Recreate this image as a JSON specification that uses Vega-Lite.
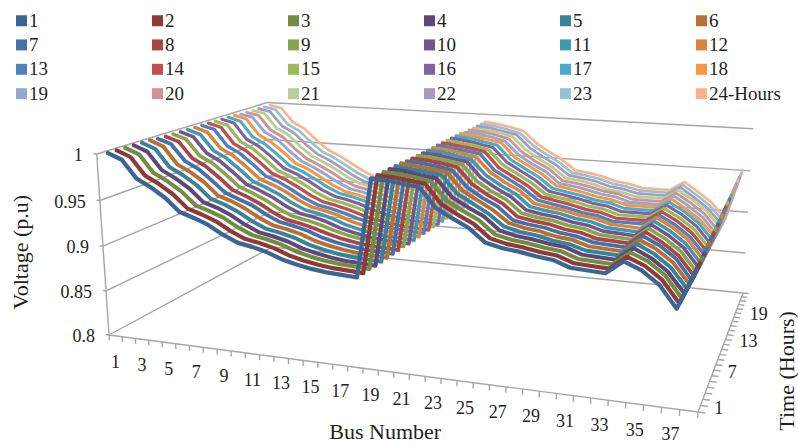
{"$schema":"https://vega.github.io/schema/vega-lite/v6.json","width":798,"height":446,"autosize":{"type":"fit","contains":"padding"},"padding":0,"background":"white","config":{"font":"Liberation Serif","view":{"stroke":null},"text":{"font":"Liberation Serif"},"legend":{"labelFont":"Liberation Serif"}},
"data":{"values":[
{"k":"r","b":0.5,"h":0.5,"v":0.8,"b2":0.5,"h2":24.5,"v2":0.8},{"k":"r","b":0.5,"h":24.5,"v":0.8,"b2":38.5,"h2":24.5,"v2":0.8},
{"k":"r","b":0.5,"h":0.5,"v":0.85,"b2":0.5,"h2":24.5,"v2":0.85},{"k":"r","b":0.5,"h":24.5,"v":0.85,"b2":38.5,"h2":24.5,"v2":0.85},
{"k":"r","b":0.5,"h":0.5,"v":0.9,"b2":0.5,"h2":24.5,"v2":0.9},{"k":"r","b":0.5,"h":24.5,"v":0.9,"b2":38.5,"h2":24.5,"v2":0.9},
{"k":"r","b":0.5,"h":0.5,"v":0.95,"b2":0.5,"h2":24.5,"v2":0.95},{"k":"r","b":0.5,"h":24.5,"v":0.95,"b2":38.5,"h2":24.5,"v2":0.95},
{"k":"r","b":0.5,"h":0.5,"v":1,"b2":0.5,"h2":24.5,"v2":1},{"k":"r","b":0.5,"h":24.5,"v":1,"b2":38.5,"h2":24.5,"v2":1},
{"k":"r","b":0.5,"h":0.5,"v":0.8,"b2":38.5,"h2":0.5,"v2":0.8},{"k":"r","b":38.5,"h":0.5,"v":0.8,"b2":38.5,"h2":24.5,"v2":0.8},{"k":"r","b":0.5,"h":0.5,"v":0.8,"b2":0.5,"h2":0.5,"v2":1},
{"k":"r","b":0.5,"h":0.5,"v":0.8,"b2":0.25,"h2":0.5,"v2":0.8},{"k":"r","b":0.5,"h":0.5,"v":0.85,"b2":0.25,"h2":0.5,"v2":0.85},{"k":"r","b":0.5,"h":0.5,"v":0.9,"b2":0.25,"h2":0.5,"v2":0.9},{"k":"r","b":0.5,"h":0.5,"v":0.95,"b2":0.25,"h2":0.5,"v2":0.95},{"k":"r","b":0.5,"h":0.5,"v":1,"b2":0.25,"h2":0.5,"v2":1},
{"k":"r","b":0.5,"h":0.5,"v":0.8,"b2":0.5,"h2":0.5,"v2":0.794},{"k":"r","b":1.5,"h":0.5,"v":0.8,"b2":1.5,"h2":0.5,"v2":0.794},{"k":"r","b":2.5,"h":0.5,"v":0.8,"b2":2.5,"h2":0.5,"v2":0.794},{"k":"r","b":3.5,"h":0.5,"v":0.8,"b2":3.5,"h2":0.5,"v2":0.794},{"k":"r","b":4.5,"h":0.5,"v":0.8,"b2":4.5,"h2":0.5,"v2":0.794},{"k":"r","b":5.5,"h":0.5,"v":0.8,"b2":5.5,"h2":0.5,"v2":0.794},{"k":"r","b":6.5,"h":0.5,"v":0.8,"b2":6.5,"h2":0.5,"v2":0.794},{"k":"r","b":7.5,"h":0.5,"v":0.8,"b2":7.5,"h2":0.5,"v2":0.794},{"k":"r","b":8.5,"h":0.5,"v":0.8,"b2":8.5,"h2":0.5,"v2":0.794},{"k":"r","b":9.5,"h":0.5,"v":0.8,"b2":9.5,"h2":0.5,"v2":0.794},{"k":"r","b":10.5,"h":0.5,"v":0.8,"b2":10.5,"h2":0.5,"v2":0.794},{"k":"r","b":11.5,"h":0.5,"v":0.8,"b2":11.5,"h2":0.5,"v2":0.794},{"k":"r","b":12.5,"h":0.5,"v":0.8,"b2":12.5,"h2":0.5,"v2":0.794},{"k":"r","b":13.5,"h":0.5,"v":0.8,"b2":13.5,"h2":0.5,"v2":0.794},{"k":"r","b":14.5,"h":0.5,"v":0.8,"b2":14.5,"h2":0.5,"v2":0.794},{"k":"r","b":15.5,"h":0.5,"v":0.8,"b2":15.5,"h2":0.5,"v2":0.794},{"k":"r","b":16.5,"h":0.5,"v":0.8,"b2":16.5,"h2":0.5,"v2":0.794},{"k":"r","b":17.5,"h":0.5,"v":0.8,"b2":17.5,"h2":0.5,"v2":0.794},{"k":"r","b":18.5,"h":0.5,"v":0.8,"b2":18.5,"h2":0.5,"v2":0.794},{"k":"r","b":19.5,"h":0.5,"v":0.8,"b2":19.5,"h2":0.5,"v2":0.794},{"k":"r","b":20.5,"h":0.5,"v":0.8,"b2":20.5,"h2":0.5,"v2":0.794},{"k":"r","b":21.5,"h":0.5,"v":0.8,"b2":21.5,"h2":0.5,"v2":0.794},{"k":"r","b":22.5,"h":0.5,"v":0.8,"b2":22.5,"h2":0.5,"v2":0.794},{"k":"r","b":23.5,"h":0.5,"v":0.8,"b2":23.5,"h2":0.5,"v2":0.794},{"k":"r","b":24.5,"h":0.5,"v":0.8,"b2":24.5,"h2":0.5,"v2":0.794},{"k":"r","b":25.5,"h":0.5,"v":0.8,"b2":25.5,"h2":0.5,"v2":0.794},{"k":"r","b":26.5,"h":0.5,"v":0.8,"b2":26.5,"h2":0.5,"v2":0.794},{"k":"r","b":27.5,"h":0.5,"v":0.8,"b2":27.5,"h2":0.5,"v2":0.794},{"k":"r","b":28.5,"h":0.5,"v":0.8,"b2":28.5,"h2":0.5,"v2":0.794},{"k":"r","b":29.5,"h":0.5,"v":0.8,"b2":29.5,"h2":0.5,"v2":0.794},{"k":"r","b":30.5,"h":0.5,"v":0.8,"b2":30.5,"h2":0.5,"v2":0.794},{"k":"r","b":31.5,"h":0.5,"v":0.8,"b2":31.5,"h2":0.5,"v2":0.794},{"k":"r","b":32.5,"h":0.5,"v":0.8,"b2":32.5,"h2":0.5,"v2":0.794},{"k":"r","b":33.5,"h":0.5,"v":0.8,"b2":33.5,"h2":0.5,"v2":0.794},{"k":"r","b":34.5,"h":0.5,"v":0.8,"b2":34.5,"h2":0.5,"v2":0.794},{"k":"r","b":35.5,"h":0.5,"v":0.8,"b2":35.5,"h2":0.5,"v2":0.794},{"k":"r","b":36.5,"h":0.5,"v":0.8,"b2":36.5,"h2":0.5,"v2":0.794},{"k":"r","b":37.5,"h":0.5,"v":0.8,"b2":37.5,"h2":0.5,"v2":0.794},{"k":"r","b":38.5,"h":0.5,"v":0.8,"b2":38.5,"h2":0.5,"v2":0.794},
{"k":"r","b":38.5,"h":0.5,"v":0.8,"b2":38.9,"h2":0.5,"v2":0.8},{"k":"r","b":38.5,"h":1.5,"v":0.8,"b2":38.9,"h2":1.5,"v2":0.8},{"k":"r","b":38.5,"h":2.5,"v":0.8,"b2":38.9,"h2":2.5,"v2":0.8},{"k":"r","b":38.5,"h":3.5,"v":0.8,"b2":38.9,"h2":3.5,"v2":0.8},{"k":"r","b":38.5,"h":4.5,"v":0.8,"b2":38.9,"h2":4.5,"v2":0.8},{"k":"r","b":38.5,"h":5.5,"v":0.8,"b2":38.9,"h2":5.5,"v2":0.8},{"k":"r","b":38.5,"h":6.5,"v":0.8,"b2":38.9,"h2":6.5,"v2":0.8},{"k":"r","b":38.5,"h":7.5,"v":0.8,"b2":38.9,"h2":7.5,"v2":0.8},{"k":"r","b":38.5,"h":8.5,"v":0.8,"b2":38.9,"h2":8.5,"v2":0.8},{"k":"r","b":38.5,"h":9.5,"v":0.8,"b2":38.9,"h2":9.5,"v2":0.8},{"k":"r","b":38.5,"h":10.5,"v":0.8,"b2":38.9,"h2":10.5,"v2":0.8},{"k":"r","b":38.5,"h":11.5,"v":0.8,"b2":38.9,"h2":11.5,"v2":0.8},{"k":"r","b":38.5,"h":12.5,"v":0.8,"b2":38.9,"h2":12.5,"v2":0.8},{"k":"r","b":38.5,"h":13.5,"v":0.8,"b2":38.9,"h2":13.5,"v2":0.8},{"k":"r","b":38.5,"h":14.5,"v":0.8,"b2":38.9,"h2":14.5,"v2":0.8},{"k":"r","b":38.5,"h":15.5,"v":0.8,"b2":38.9,"h2":15.5,"v2":0.8},{"k":"r","b":38.5,"h":16.5,"v":0.8,"b2":38.9,"h2":16.5,"v2":0.8},{"k":"r","b":38.5,"h":17.5,"v":0.8,"b2":38.9,"h2":17.5,"v2":0.8},{"k":"r","b":38.5,"h":18.5,"v":0.8,"b2":38.9,"h2":18.5,"v2":0.8},{"k":"r","b":38.5,"h":19.5,"v":0.8,"b2":38.9,"h2":19.5,"v2":0.8},{"k":"r","b":38.5,"h":20.5,"v":0.8,"b2":38.9,"h2":20.5,"v2":0.8},{"k":"r","b":38.5,"h":21.5,"v":0.8,"b2":38.9,"h2":21.5,"v2":0.8},{"k":"r","b":38.5,"h":22.5,"v":0.8,"b2":38.9,"h2":22.5,"v2":0.8},{"k":"r","b":38.5,"h":23.5,"v":0.8,"b2":38.9,"h2":23.5,"v2":0.8},{"k":"r","b":38.5,"h":24.5,"v":0.8,"b2":38.9,"h2":24.5,"v2":0.8},
{"k":"lv","b":0.5,"h":0.5,"v":1,"label":"1"},{"k":"lv","b":0.5,"h":0.5,"v":0.95,"label":"0.95"},{"k":"lv","b":0.5,"h":0.5,"v":0.9,"label":"0.9"},{"k":"lv","b":0.5,"h":0.5,"v":0.85,"label":"0.85"},{"k":"lv","b":0.5,"h":0.5,"v":0.8,"label":"0.8"},
{"k":"lb","b":1,"h":0.5,"v":0.8,"label":"1"},{"k":"lb","b":3,"h":0.5,"v":0.8,"label":"3"},{"k":"lb","b":5,"h":0.5,"v":0.8,"label":"5"},{"k":"lb","b":7,"h":0.5,"v":0.8,"label":"7"},{"k":"lb","b":9,"h":0.5,"v":0.8,"label":"9"},{"k":"lb","b":11,"h":0.5,"v":0.8,"label":"11"},{"k":"lb","b":13,"h":0.5,"v":0.8,"label":"13"},{"k":"lb","b":15,"h":0.5,"v":0.8,"label":"15"},{"k":"lb","b":17,"h":0.5,"v":0.8,"label":"17"},{"k":"lb","b":19,"h":0.5,"v":0.8,"label":"19"},{"k":"lb","b":21,"h":0.5,"v":0.8,"label":"21"},{"k":"lb","b":23,"h":0.5,"v":0.8,"label":"23"},{"k":"lb","b":25,"h":0.5,"v":0.8,"label":"25"},{"k":"lb","b":27,"h":0.5,"v":0.8,"label":"27"},{"k":"lb","b":29,"h":0.5,"v":0.8,"label":"29"},{"k":"lb","b":31,"h":0.5,"v":0.8,"label":"31"},{"k":"lb","b":33,"h":0.5,"v":0.8,"label":"33"},{"k":"lb","b":35,"h":0.5,"v":0.8,"label":"35"},{"k":"lb","b":37,"h":0.5,"v":0.8,"label":"37"},
{"k":"lh","b":38.5,"h":1,"v":0.8,"label":"1"},{"k":"lh","b":38.5,"h":7,"v":0.8,"label":"7"},{"k":"lh","b":38.5,"h":13,"v":0.8,"label":"13"},{"k":"lh","b":38.5,"h":19,"v":0.8,"label":"19"},
{"k":"tx","b":19.5,"h":0.5,"v":0.8,"label":"Bus Number"},{"k":"ty","b":0.5,"h":0.5,"v":0.9,"label":"Voltage (p.u)"},{"k":"tt","b":38.5,"h":10,"v":0.8,"label":"Time (Hours)"},
{"b":1,"h":24,"v":0.998},{"b":2,"h":24,"v":0.995},{"b":3,"h":24,"v":0.977},{"b":4,"h":24,"v":0.969},{"b":5,"h":24,"v":0.955},{"b":6,"h":24,"v":0.943},{"b":7,"h":24,"v":0.936},{"b":8,"h":24,"v":0.927},{"b":9,"h":24,"v":0.918},{"b":10,"h":24,"v":0.911},{"b":11,"h":24,"v":0.908},{"b":12,"h":24,"v":0.904},{"b":13,"h":24,"v":0.899},{"b":14,"h":24,"v":0.895},{"b":15,"h":24,"v":0.892},{"b":16,"h":24,"v":0.89},{"b":17,"h":24,"v":0.889},{"b":18,"h":24,"v":0.888},{"b":19,"h":24,"v":0.992},{"b":20,"h":24,"v":0.99},{"b":21,"h":24,"v":0.987},{"b":22,"h":24,"v":0.983},{"b":23,"h":24,"v":0.969},{"b":24,"h":24,"v":0.959},{"b":25,"h":24,"v":0.95},{"b":26,"h":24,"v":0.938},{"b":27,"h":24,"v":0.936},{"b":28,"h":24,"v":0.933},{"b":29,"h":24,"v":0.928},{"b":30,"h":24,"v":0.926},{"b":31,"h":24,"v":0.922},{"b":32,"h":24,"v":0.922},{"b":33,"h":24,"v":0.922},{"b":34,"h":24,"v":0.933},{"b":35,"h":24,"v":0.922},{"b":36,"h":24,"v":0.91},{"b":37,"h":24,"v":0.892},{"b":38,"h":24,"v":0.952},
{"b":1,"h":23,"v":0.998},{"b":2,"h":23,"v":0.995},{"b":3,"h":23,"v":0.977},{"b":4,"h":23,"v":0.969},{"b":5,"h":23,"v":0.955},{"b":6,"h":23,"v":0.943},{"b":7,"h":23,"v":0.936},{"b":8,"h":23,"v":0.927},{"b":9,"h":23,"v":0.918},{"b":10,"h":23,"v":0.911},{"b":11,"h":23,"v":0.908},{"b":12,"h":23,"v":0.904},{"b":13,"h":23,"v":0.899},{"b":14,"h":23,"v":0.895},{"b":15,"h":23,"v":0.892},{"b":16,"h":23,"v":0.89},{"b":17,"h":23,"v":0.889},{"b":18,"h":23,"v":0.888},{"b":19,"h":23,"v":0.992},{"b":20,"h":23,"v":0.99},{"b":21,"h":23,"v":0.987},{"b":22,"h":23,"v":0.983},{"b":23,"h":23,"v":0.969},{"b":24,"h":23,"v":0.959},{"b":25,"h":23,"v":0.95},{"b":26,"h":23,"v":0.938},{"b":27,"h":23,"v":0.936},{"b":28,"h":23,"v":0.933},{"b":29,"h":23,"v":0.928},{"b":30,"h":23,"v":0.926},{"b":31,"h":23,"v":0.922},{"b":32,"h":23,"v":0.922},{"b":33,"h":23,"v":0.922},{"b":34,"h":23,"v":0.933},{"b":35,"h":23,"v":0.922},{"b":36,"h":23,"v":0.91},{"b":37,"h":23,"v":0.892},{"b":38,"h":23,"v":0.951},
{"b":1,"h":22,"v":0.998},{"b":2,"h":22,"v":0.995},{"b":3,"h":22,"v":0.977},{"b":4,"h":22,"v":0.969},{"b":5,"h":22,"v":0.955},{"b":6,"h":22,"v":0.943},{"b":7,"h":22,"v":0.936},{"b":8,"h":22,"v":0.927},{"b":9,"h":22,"v":0.918},{"b":10,"h":22,"v":0.911},{"b":11,"h":22,"v":0.908},{"b":12,"h":22,"v":0.904},{"b":13,"h":22,"v":0.899},{"b":14,"h":22,"v":0.895},{"b":15,"h":22,"v":0.892},{"b":16,"h":22,"v":0.89},{"b":17,"h":22,"v":0.889},{"b":18,"h":22,"v":0.888},{"b":19,"h":22,"v":0.992},{"b":20,"h":22,"v":0.99},{"b":21,"h":22,"v":0.987},{"b":22,"h":22,"v":0.984},{"b":23,"h":22,"v":0.969},{"b":24,"h":22,"v":0.959},{"b":25,"h":22,"v":0.95},{"b":26,"h":22,"v":0.938},{"b":27,"h":22,"v":0.936},{"b":28,"h":22,"v":0.933},{"b":29,"h":22,"v":0.928},{"b":30,"h":22,"v":0.926},{"b":31,"h":22,"v":0.922},{"b":32,"h":22,"v":0.922},{"b":33,"h":22,"v":0.922},{"b":34,"h":22,"v":0.933},{"b":35,"h":22,"v":0.922},{"b":36,"h":22,"v":0.91},{"b":37,"h":22,"v":0.892},{"b":38,"h":22,"v":0.95},
{"b":1,"h":21,"v":0.998},{"b":2,"h":21,"v":0.995},{"b":3,"h":21,"v":0.977},{"b":4,"h":21,"v":0.969},{"b":5,"h":21,"v":0.955},{"b":6,"h":21,"v":0.943},{"b":7,"h":21,"v":0.936},{"b":8,"h":21,"v":0.928},{"b":9,"h":21,"v":0.919},{"b":10,"h":21,"v":0.912},{"b":11,"h":21,"v":0.909},{"b":12,"h":21,"v":0.905},{"b":13,"h":21,"v":0.9},{"b":14,"h":21,"v":0.896},{"b":15,"h":21,"v":0.893},{"b":16,"h":21,"v":0.891},{"b":17,"h":21,"v":0.89},{"b":18,"h":21,"v":0.889},{"b":19,"h":21,"v":0.992},{"b":20,"h":21,"v":0.99},{"b":21,"h":21,"v":0.988},{"b":22,"h":21,"v":0.984},{"b":23,"h":21,"v":0.969},{"b":24,"h":21,"v":0.959},{"b":25,"h":21,"v":0.95},{"b":26,"h":21,"v":0.938},{"b":27,"h":21,"v":0.936},{"b":28,"h":21,"v":0.933},{"b":29,"h":21,"v":0.928},{"b":30,"h":21,"v":0.926},{"b":31,"h":21,"v":0.922},{"b":32,"h":21,"v":0.922},{"b":33,"h":21,"v":0.922},{"b":34,"h":21,"v":0.933},{"b":35,"h":21,"v":0.923},{"b":36,"h":21,"v":0.911},{"b":37,"h":21,"v":0.892},{"b":38,"h":21,"v":0.95},
{"b":1,"h":20,"v":0.998},{"b":2,"h":20,"v":0.995},{"b":3,"h":20,"v":0.977},{"b":4,"h":20,"v":0.969},{"b":5,"h":20,"v":0.955},{"b":6,"h":20,"v":0.943},{"b":7,"h":20,"v":0.936},{"b":8,"h":20,"v":0.928},{"b":9,"h":20,"v":0.919},{"b":10,"h":20,"v":0.912},{"b":11,"h":20,"v":0.909},{"b":12,"h":20,"v":0.905},{"b":13,"h":20,"v":0.9},{"b":14,"h":20,"v":0.896},{"b":15,"h":20,"v":0.893},{"b":16,"h":20,"v":0.891},{"b":17,"h":20,"v":0.89},{"b":18,"h":20,"v":0.889},{"b":19,"h":20,"v":0.992},{"b":20,"h":20,"v":0.991},{"b":21,"h":20,"v":0.988},{"b":22,"h":20,"v":0.984},{"b":23,"h":20,"v":0.969},{"b":24,"h":20,"v":0.959},{"b":25,"h":20,"v":0.951},{"b":26,"h":20,"v":0.938},{"b":27,"h":20,"v":0.936},{"b":28,"h":20,"v":0.933},{"b":29,"h":20,"v":0.929},{"b":30,"h":20,"v":0.927},{"b":31,"h":20,"v":0.922},{"b":32,"h":20,"v":0.922},{"b":33,"h":20,"v":0.922},{"b":34,"h":20,"v":0.933},{"b":35,"h":20,"v":0.923},{"b":36,"h":20,"v":0.911},{"b":37,"h":20,"v":0.892},{"b":38,"h":20,"v":0.949},
{"b":1,"h":19,"v":0.998},{"b":2,"h":19,"v":0.995},{"b":3,"h":19,"v":0.977},{"b":4,"h":19,"v":0.969},{"b":5,"h":19,"v":0.955},{"b":6,"h":19,"v":0.943},{"b":7,"h":19,"v":0.936},{"b":8,"h":19,"v":0.928},{"b":9,"h":19,"v":0.919},{"b":10,"h":19,"v":0.912},{"b":11,"h":19,"v":0.909},{"b":12,"h":19,"v":0.905},{"b":13,"h":19,"v":0.9},{"b":14,"h":19,"v":0.896},{"b":15,"h":19,"v":0.893},{"b":16,"h":19,"v":0.891},{"b":17,"h":19,"v":0.89},{"b":18,"h":19,"v":0.889},{"b":19,"h":19,"v":0.992},{"b":20,"h":19,"v":0.991},{"b":21,"h":19,"v":0.988},{"b":22,"h":19,"v":0.984},{"b":23,"h":19,"v":0.969},{"b":24,"h":19,"v":0.959},{"b":25,"h":19,"v":0.951},{"b":26,"h":19,"v":0.938},{"b":27,"h":19,"v":0.936},{"b":28,"h":19,"v":0.933},{"b":29,"h":19,"v":0.929},{"b":30,"h":19,"v":0.927},{"b":31,"h":19,"v":0.922},{"b":32,"h":19,"v":0.922},{"b":33,"h":19,"v":0.922},{"b":34,"h":19,"v":0.933},{"b":35,"h":19,"v":0.923},{"b":36,"h":19,"v":0.911},{"b":37,"h":19,"v":0.892},{"b":38,"h":19,"v":0.948},
{"b":1,"h":18,"v":0.999},{"b":2,"h":18,"v":0.995},{"b":3,"h":18,"v":0.976},{"b":4,"h":18,"v":0.968},{"b":5,"h":18,"v":0.956},{"b":6,"h":18,"v":0.943},{"b":7,"h":18,"v":0.937},{"b":8,"h":18,"v":0.928},{"b":9,"h":18,"v":0.919},{"b":10,"h":18,"v":0.912},{"b":11,"h":18,"v":0.909},{"b":12,"h":18,"v":0.905},{"b":13,"h":18,"v":0.9},{"b":14,"h":18,"v":0.896},{"b":15,"h":18,"v":0.893},{"b":16,"h":18,"v":0.891},{"b":17,"h":18,"v":0.89},{"b":18,"h":18,"v":0.889},{"b":19,"h":18,"v":0.993},{"b":20,"h":18,"v":0.991},{"b":21,"h":18,"v":0.988},{"b":22,"h":18,"v":0.985},{"b":23,"h":18,"v":0.969},{"b":24,"h":18,"v":0.96},{"b":25,"h":18,"v":0.951},{"b":26,"h":18,"v":0.939},{"b":27,"h":18,"v":0.936},{"b":28,"h":18,"v":0.933},{"b":29,"h":18,"v":0.929},{"b":30,"h":18,"v":0.927},{"b":31,"h":18,"v":0.922},{"b":32,"h":18,"v":0.922},{"b":33,"h":18,"v":0.922},{"b":34,"h":18,"v":0.933},{"b":35,"h":18,"v":0.923},{"b":36,"h":18,"v":0.911},{"b":37,"h":18,"v":0.893},{"b":38,"h":18,"v":0.947},
{"b":1,"h":17,"v":0.999},{"b":2,"h":17,"v":0.995},{"b":3,"h":17,"v":0.976},{"b":4,"h":17,"v":0.968},{"b":5,"h":17,"v":0.956},{"b":6,"h":17,"v":0.943},{"b":7,"h":17,"v":0.937},{"b":8,"h":17,"v":0.929},{"b":9,"h":17,"v":0.92},{"b":10,"h":17,"v":0.913},{"b":11,"h":17,"v":0.91},{"b":12,"h":17,"v":0.906},{"b":13,"h":17,"v":0.9},{"b":14,"h":17,"v":0.896},{"b":15,"h":17,"v":0.893},{"b":16,"h":17,"v":0.891},{"b":17,"h":17,"v":0.89},{"b":18,"h":17,"v":0.889},{"b":19,"h":17,"v":0.993},{"b":20,"h":17,"v":0.991},{"b":21,"h":17,"v":0.988},{"b":22,"h":17,"v":0.985},{"b":23,"h":17,"v":0.969},{"b":24,"h":17,"v":0.96},{"b":25,"h":17,"v":0.951},{"b":26,"h":17,"v":0.939},{"b":27,"h":17,"v":0.936},{"b":28,"h":17,"v":0.933},{"b":29,"h":17,"v":0.929},{"b":30,"h":17,"v":0.927},{"b":31,"h":17,"v":0.922},{"b":32,"h":17,"v":0.922},{"b":33,"h":17,"v":0.922},{"b":34,"h":17,"v":0.933},{"b":35,"h":17,"v":0.924},{"b":36,"h":17,"v":0.912},{"b":37,"h":17,"v":0.893},{"b":38,"h":17,"v":0.946},
{"b":1,"h":16,"v":0.999},{"b":2,"h":16,"v":0.995},{"b":3,"h":16,"v":0.976},{"b":4,"h":16,"v":0.968},{"b":5,"h":16,"v":0.956},{"b":6,"h":16,"v":0.943},{"b":7,"h":16,"v":0.937},{"b":8,"h":16,"v":0.929},{"b":9,"h":16,"v":0.92},{"b":10,"h":16,"v":0.913},{"b":11,"h":16,"v":0.91},{"b":12,"h":16,"v":0.906},{"b":13,"h":16,"v":0.9},{"b":14,"h":16,"v":0.896},{"b":15,"h":16,"v":0.893},{"b":16,"h":16,"v":0.891},{"b":17,"h":16,"v":0.89},{"b":18,"h":16,"v":0.889},{"b":19,"h":16,"v":0.993},{"b":20,"h":16,"v":0.991},{"b":21,"h":16,"v":0.988},{"b":22,"h":16,"v":0.985},{"b":23,"h":16,"v":0.969},{"b":24,"h":16,"v":0.96},{"b":25,"h":16,"v":0.951},{"b":26,"h":16,"v":0.939},{"b":27,"h":16,"v":0.936},{"b":28,"h":16,"v":0.933},{"b":29,"h":16,"v":0.929},{"b":30,"h":16,"v":0.927},{"b":31,"h":16,"v":0.922},{"b":32,"h":16,"v":0.922},{"b":33,"h":16,"v":0.922},{"b":34,"h":16,"v":0.933},{"b":35,"h":16,"v":0.924},{"b":36,"h":16,"v":0.912},{"b":37,"h":16,"v":0.893},{"b":38,"h":16,"v":0.945},
{"b":1,"h":15,"v":0.999},{"b":2,"h":15,"v":0.995},{"b":3,"h":15,"v":0.976},{"b":4,"h":15,"v":0.968},{"b":5,"h":15,"v":0.956},{"b":6,"h":15,"v":0.943},{"b":7,"h":15,"v":0.937},{"b":8,"h":15,"v":0.929},{"b":9,"h":15,"v":0.92},{"b":10,"h":15,"v":0.913},{"b":11,"h":15,"v":0.91},{"b":12,"h":15,"v":0.906},{"b":13,"h":15,"v":0.901},{"b":14,"h":15,"v":0.897},{"b":15,"h":15,"v":0.894},{"b":16,"h":15,"v":0.892},{"b":17,"h":15,"v":0.891},{"b":18,"h":15,"v":0.89},{"b":19,"h":15,"v":0.993},{"b":20,"h":15,"v":0.991},{"b":21,"h":15,"v":0.989},{"b":22,"h":15,"v":0.985},{"b":23,"h":15,"v":0.969},{"b":24,"h":15,"v":0.96},{"b":25,"h":15,"v":0.951},{"b":26,"h":15,"v":0.939},{"b":27,"h":15,"v":0.936},{"b":28,"h":15,"v":0.933},{"b":29,"h":15,"v":0.929},{"b":30,"h":15,"v":0.927},{"b":31,"h":15,"v":0.922},{"b":32,"h":15,"v":0.922},{"b":33,"h":15,"v":0.922},{"b":34,"h":15,"v":0.933},{"b":35,"h":15,"v":0.924},{"b":36,"h":15,"v":0.912},{"b":37,"h":15,"v":0.893},{"b":38,"h":15,"v":0.945},
{"b":1,"h":14,"v":0.999},{"b":2,"h":14,"v":0.995},{"b":3,"h":14,"v":0.976},{"b":4,"h":14,"v":0.968},{"b":5,"h":14,"v":0.956},{"b":6,"h":14,"v":0.943},{"b":7,"h":14,"v":0.937},{"b":8,"h":14,"v":0.929},{"b":9,"h":14,"v":0.92},{"b":10,"h":14,"v":0.913},{"b":11,"h":14,"v":0.91},{"b":12,"h":14,"v":0.906},{"b":13,"h":14,"v":0.901},{"b":14,"h":14,"v":0.897},{"b":15,"h":14,"v":0.894},{"b":16,"h":14,"v":0.892},{"b":17,"h":14,"v":0.891},{"b":18,"h":14,"v":0.89},{"b":19,"h":14,"v":0.993},{"b":20,"h":14,"v":0.991},{"b":21,"h":14,"v":0.989},{"b":22,"h":14,"v":0.986},{"b":23,"h":14,"v":0.969},{"b":24,"h":14,"v":0.96},{"b":25,"h":14,"v":0.951},{"b":26,"h":14,"v":0.939},{"b":27,"h":14,"v":0.936},{"b":28,"h":14,"v":0.933},{"b":29,"h":14,"v":0.929},{"b":30,"h":14,"v":0.927},{"b":31,"h":14,"v":0.922},{"b":32,"h":14,"v":0.922},{"b":33,"h":14,"v":0.922},{"b":34,"h":14,"v":0.933},{"b":35,"h":14,"v":0.924},{"b":36,"h":14,"v":0.912},{"b":37,"h":14,"v":0.893},{"b":38,"h":14,"v":0.944},
{"b":1,"h":13,"v":0.999},{"b":2,"h":13,"v":0.995},{"b":3,"h":13,"v":0.976},{"b":4,"h":13,"v":0.968},{"b":5,"h":13,"v":0.956},{"b":6,"h":13,"v":0.943},{"b":7,"h":13,"v":0.937},{"b":8,"h":13,"v":0.929},{"b":9,"h":13,"v":0.92},{"b":10,"h":13,"v":0.913},{"b":11,"h":13,"v":0.91},{"b":12,"h":13,"v":0.906},{"b":13,"h":13,"v":0.901},{"b":14,"h":13,"v":0.897},{"b":15,"h":13,"v":0.894},{"b":16,"h":13,"v":0.892},{"b":17,"h":13,"v":0.891},{"b":18,"h":13,"v":0.89},{"b":19,"h":13,"v":0.993},{"b":20,"h":13,"v":0.991},{"b":21,"h":13,"v":0.989},{"b":22,"h":13,"v":0.986},{"b":23,"h":13,"v":0.969},{"b":24,"h":13,"v":0.96},{"b":25,"h":13,"v":0.951},{"b":26,"h":13,"v":0.939},{"b":27,"h":13,"v":0.936},{"b":28,"h":13,"v":0.933},{"b":29,"h":13,"v":0.929},{"b":30,"h":13,"v":0.927},{"b":31,"h":13,"v":0.922},{"b":32,"h":13,"v":0.922},{"b":33,"h":13,"v":0.922},{"b":34,"h":13,"v":0.933},{"b":35,"h":13,"v":0.924},{"b":36,"h":13,"v":0.912},{"b":37,"h":13,"v":0.893},{"b":38,"h":13,"v":0.943},
{"b":1,"h":12,"v":0.999},{"b":2,"h":12,"v":0.994},{"b":3,"h":12,"v":0.976},{"b":4,"h":12,"v":0.968},{"b":5,"h":12,"v":0.956},{"b":6,"h":12,"v":0.943},{"b":7,"h":12,"v":0.937},{"b":8,"h":12,"v":0.93},{"b":9,"h":12,"v":0.921},{"b":10,"h":12,"v":0.914},{"b":11,"h":12,"v":0.911},{"b":12,"h":12,"v":0.907},{"b":13,"h":12,"v":0.901},{"b":14,"h":12,"v":0.897},{"b":15,"h":12,"v":0.894},{"b":16,"h":12,"v":0.892},{"b":17,"h":12,"v":0.891},{"b":18,"h":12,"v":0.89},{"b":19,"h":12,"v":0.993},{"b":20,"h":12,"v":0.992},{"b":21,"h":12,"v":0.989},{"b":22,"h":12,"v":0.986},{"b":23,"h":12,"v":0.97},{"b":24,"h":12,"v":0.96},{"b":25,"h":12,"v":0.952},{"b":26,"h":12,"v":0.939},{"b":27,"h":12,"v":0.936},{"b":28,"h":12,"v":0.934},{"b":29,"h":12,"v":0.93},{"b":30,"h":12,"v":0.928},{"b":31,"h":12,"v":0.923},{"b":32,"h":12,"v":0.922},{"b":33,"h":12,"v":0.921},{"b":34,"h":12,"v":0.934},{"b":35,"h":12,"v":0.925},{"b":36,"h":12,"v":0.913},{"b":37,"h":12,"v":0.893},{"b":38,"h":12,"v":0.942},
{"b":1,"h":11,"v":0.999},{"b":2,"h":11,"v":0.994},{"b":3,"h":11,"v":0.976},{"b":4,"h":11,"v":0.968},{"b":5,"h":11,"v":0.956},{"b":6,"h":11,"v":0.943},{"b":7,"h":11,"v":0.937},{"b":8,"h":11,"v":0.93},{"b":9,"h":11,"v":0.921},{"b":10,"h":11,"v":0.914},{"b":11,"h":11,"v":0.911},{"b":12,"h":11,"v":0.907},{"b":13,"h":11,"v":0.901},{"b":14,"h":11,"v":0.897},{"b":15,"h":11,"v":0.894},{"b":16,"h":11,"v":0.892},{"b":17,"h":11,"v":0.891},{"b":18,"h":11,"v":0.89},{"b":19,"h":11,"v":0.993},{"b":20,"h":11,"v":0.992},{"b":21,"h":11,"v":0.989},{"b":22,"h":11,"v":0.986},{"b":23,"h":11,"v":0.97},{"b":24,"h":11,"v":0.96},{"b":25,"h":11,"v":0.952},{"b":26,"h":11,"v":0.939},{"b":27,"h":11,"v":0.936},{"b":28,"h":11,"v":0.934},{"b":29,"h":11,"v":0.93},{"b":30,"h":11,"v":0.928},{"b":31,"h":11,"v":0.923},{"b":32,"h":11,"v":0.922},{"b":33,"h":11,"v":0.921},{"b":34,"h":11,"v":0.934},{"b":35,"h":11,"v":0.925},{"b":36,"h":11,"v":0.913},{"b":37,"h":11,"v":0.893},{"b":38,"h":11,"v":0.941},
{"b":1,"h":10,"v":0.999},{"b":2,"h":10,"v":0.994},{"b":3,"h":10,"v":0.976},{"b":4,"h":10,"v":0.968},{"b":5,"h":10,"v":0.956},{"b":6,"h":10,"v":0.943},{"b":7,"h":10,"v":0.937},{"b":8,"h":10,"v":0.93},{"b":9,"h":10,"v":0.921},{"b":10,"h":10,"v":0.914},{"b":11,"h":10,"v":0.911},{"b":12,"h":10,"v":0.907},{"b":13,"h":10,"v":0.901},{"b":14,"h":10,"v":0.897},{"b":15,"h":10,"v":0.894},{"b":16,"h":10,"v":0.892},{"b":17,"h":10,"v":0.891},{"b":18,"h":10,"v":0.89},{"b":19,"h":10,"v":0.993},{"b":20,"h":10,"v":0.992},{"b":21,"h":10,"v":0.989},{"b":22,"h":10,"v":0.987},{"b":23,"h":10,"v":0.97},{"b":24,"h":10,"v":0.96},{"b":25,"h":10,"v":0.952},{"b":26,"h":10,"v":0.939},{"b":27,"h":10,"v":0.936},{"b":28,"h":10,"v":0.934},{"b":29,"h":10,"v":0.93},{"b":30,"h":10,"v":0.928},{"b":31,"h":10,"v":0.923},{"b":32,"h":10,"v":0.922},{"b":33,"h":10,"v":0.921},{"b":34,"h":10,"v":0.934},{"b":35,"h":10,"v":0.925},{"b":36,"h":10,"v":0.913},{"b":37,"h":10,"v":0.893},{"b":38,"h":10,"v":0.94},
{"b":1,"h":9,"v":0.999},{"b":2,"h":9,"v":0.994},{"b":3,"h":9,"v":0.976},{"b":4,"h":9,"v":0.968},{"b":5,"h":9,"v":0.956},{"b":6,"h":9,"v":0.943},{"b":7,"h":9,"v":0.937},{"b":8,"h":9,"v":0.93},{"b":9,"h":9,"v":0.921},{"b":10,"h":9,"v":0.914},{"b":11,"h":9,"v":0.911},{"b":12,"h":9,"v":0.907},{"b":13,"h":9,"v":0.902},{"b":14,"h":9,"v":0.898},{"b":15,"h":9,"v":0.895},{"b":16,"h":9,"v":0.893},{"b":17,"h":9,"v":0.892},{"b":18,"h":9,"v":0.891},{"b":19,"h":9,"v":0.993},{"b":20,"h":9,"v":0.992},{"b":21,"h":9,"v":0.99},{"b":22,"h":9,"v":0.987},{"b":23,"h":9,"v":0.97},{"b":24,"h":9,"v":0.96},{"b":25,"h":9,"v":0.952},{"b":26,"h":9,"v":0.939},{"b":27,"h":9,"v":0.936},{"b":28,"h":9,"v":0.934},{"b":29,"h":9,"v":0.93},{"b":30,"h":9,"v":0.928},{"b":31,"h":9,"v":0.923},{"b":32,"h":9,"v":0.922},{"b":33,"h":9,"v":0.921},{"b":34,"h":9,"v":0.934},{"b":35,"h":9,"v":0.925},{"b":36,"h":9,"v":0.913},{"b":37,"h":9,"v":0.893},{"b":38,"h":9,"v":0.94},
{"b":1,"h":8,"v":0.999},{"b":2,"h":8,"v":0.994},{"b":3,"h":8,"v":0.976},{"b":4,"h":8,"v":0.968},{"b":5,"h":8,"v":0.956},{"b":6,"h":8,"v":0.943},{"b":7,"h":8,"v":0.937},{"b":8,"h":8,"v":0.93},{"b":9,"h":8,"v":0.921},{"b":10,"h":8,"v":0.914},{"b":11,"h":8,"v":0.911},{"b":12,"h":8,"v":0.907},{"b":13,"h":8,"v":0.902},{"b":14,"h":8,"v":0.898},{"b":15,"h":8,"v":0.895},{"b":16,"h":8,"v":0.893},{"b":17,"h":8,"v":0.892},{"b":18,"h":8,"v":0.891},{"b":19,"h":8,"v":0.993},{"b":20,"h":8,"v":0.992},{"b":21,"h":8,"v":0.99},{"b":22,"h":8,"v":0.987},{"b":23,"h":8,"v":0.97},{"b":24,"h":8,"v":0.96},{"b":25,"h":8,"v":0.952},{"b":26,"h":8,"v":0.939},{"b":27,"h":8,"v":0.936},{"b":28,"h":8,"v":0.934},{"b":29,"h":8,"v":0.93},{"b":30,"h":8,"v":0.928},{"b":31,"h":8,"v":0.923},{"b":32,"h":8,"v":0.922},{"b":33,"h":8,"v":0.921},{"b":34,"h":8,"v":0.934},{"b":35,"h":8,"v":0.925},{"b":36,"h":8,"v":0.913},{"b":37,"h":8,"v":0.893},{"b":38,"h":8,"v":0.939},
{"b":1,"h":7,"v":0.999},{"b":2,"h":7,"v":0.994},{"b":3,"h":7,"v":0.976},{"b":4,"h":7,"v":0.968},{"b":5,"h":7,"v":0.956},{"b":6,"h":7,"v":0.943},{"b":7,"h":7,"v":0.937},{"b":8,"h":7,"v":0.931},{"b":9,"h":7,"v":0.922},{"b":10,"h":7,"v":0.915},{"b":11,"h":7,"v":0.912},{"b":12,"h":7,"v":0.908},{"b":13,"h":7,"v":0.902},{"b":14,"h":7,"v":0.898},{"b":15,"h":7,"v":0.895},{"b":16,"h":7,"v":0.893},{"b":17,"h":7,"v":0.892},{"b":18,"h":7,"v":0.891},{"b":19,"h":7,"v":0.993},{"b":20,"h":7,"v":0.992},{"b":21,"h":7,"v":0.99},{"b":22,"h":7,"v":0.987},{"b":23,"h":7,"v":0.97},{"b":24,"h":7,"v":0.96},{"b":25,"h":7,"v":0.952},{"b":26,"h":7,"v":0.939},{"b":27,"h":7,"v":0.936},{"b":28,"h":7,"v":0.934},{"b":29,"h":7,"v":0.93},{"b":30,"h":7,"v":0.928},{"b":31,"h":7,"v":0.923},{"b":32,"h":7,"v":0.922},{"b":33,"h":7,"v":0.921},{"b":34,"h":7,"v":0.934},{"b":35,"h":7,"v":0.926},{"b":36,"h":7,"v":0.914},{"b":37,"h":7,"v":0.893},{"b":38,"h":7,"v":0.938},
{"b":1,"h":6,"v":1},{"b":2,"h":6,"v":0.994},{"b":3,"h":6,"v":0.975},{"b":4,"h":6,"v":0.967},{"b":5,"h":6,"v":0.957},{"b":6,"h":6,"v":0.943},{"b":7,"h":6,"v":0.938},{"b":8,"h":6,"v":0.931},{"b":9,"h":6,"v":0.922},{"b":10,"h":6,"v":0.915},{"b":11,"h":6,"v":0.912},{"b":12,"h":6,"v":0.908},{"b":13,"h":6,"v":0.902},{"b":14,"h":6,"v":0.898},{"b":15,"h":6,"v":0.895},{"b":16,"h":6,"v":0.893},{"b":17,"h":6,"v":0.892},{"b":18,"h":6,"v":0.891},{"b":19,"h":6,"v":0.994},{"b":20,"h":6,"v":0.992},{"b":21,"h":6,"v":0.99},{"b":22,"h":6,"v":0.988},{"b":23,"h":6,"v":0.97},{"b":24,"h":6,"v":0.961},{"b":25,"h":6,"v":0.952},{"b":26,"h":6,"v":0.94},{"b":27,"h":6,"v":0.936},{"b":28,"h":6,"v":0.934},{"b":29,"h":6,"v":0.93},{"b":30,"h":6,"v":0.928},{"b":31,"h":6,"v":0.923},{"b":32,"h":6,"v":0.922},{"b":33,"h":6,"v":0.921},{"b":34,"h":6,"v":0.934},{"b":35,"h":6,"v":0.926},{"b":36,"h":6,"v":0.914},{"b":37,"h":6,"v":0.894},{"b":38,"h":6,"v":0.937},
{"b":1,"h":5,"v":1},{"b":2,"h":5,"v":0.994},{"b":3,"h":5,"v":0.975},{"b":4,"h":5,"v":0.967},{"b":5,"h":5,"v":0.957},{"b":6,"h":5,"v":0.943},{"b":7,"h":5,"v":0.938},{"b":8,"h":5,"v":0.931},{"b":9,"h":5,"v":0.922},{"b":10,"h":5,"v":0.915},{"b":11,"h":5,"v":0.912},{"b":12,"h":5,"v":0.908},{"b":13,"h":5,"v":0.902},{"b":14,"h":5,"v":0.898},{"b":15,"h":5,"v":0.895},{"b":16,"h":5,"v":0.893},{"b":17,"h":5,"v":0.892},{"b":18,"h":5,"v":0.891},{"b":19,"h":5,"v":0.994},{"b":20,"h":5,"v":0.992},{"b":21,"h":5,"v":0.99},{"b":22,"h":5,"v":0.988},{"b":23,"h":5,"v":0.97},{"b":24,"h":5,"v":0.961},{"b":25,"h":5,"v":0.952},{"b":26,"h":5,"v":0.94},{"b":27,"h":5,"v":0.936},{"b":28,"h":5,"v":0.934},{"b":29,"h":5,"v":0.93},{"b":30,"h":5,"v":0.928},{"b":31,"h":5,"v":0.923},{"b":32,"h":5,"v":0.922},{"b":33,"h":5,"v":0.921},{"b":34,"h":5,"v":0.934},{"b":35,"h":5,"v":0.926},{"b":36,"h":5,"v":0.914},{"b":37,"h":5,"v":0.894},{"b":38,"h":5,"v":0.936},
{"b":1,"h":4,"v":1},{"b":2,"h":4,"v":0.994},{"b":3,"h":4,"v":0.975},{"b":4,"h":4,"v":0.967},{"b":5,"h":4,"v":0.957},{"b":6,"h":4,"v":0.943},{"b":7,"h":4,"v":0.938},{"b":8,"h":4,"v":0.931},{"b":9,"h":4,"v":0.922},{"b":10,"h":4,"v":0.915},{"b":11,"h":4,"v":0.912},{"b":12,"h":4,"v":0.908},{"b":13,"h":4,"v":0.902},{"b":14,"h":4,"v":0.898},{"b":15,"h":4,"v":0.895},{"b":16,"h":4,"v":0.893},{"b":17,"h":4,"v":0.892},{"b":18,"h":4,"v":0.891},{"b":19,"h":4,"v":0.994},{"b":20,"h":4,"v":0.993},{"b":21,"h":4,"v":0.99},{"b":22,"h":4,"v":0.988},{"b":23,"h":4,"v":0.97},{"b":24,"h":4,"v":0.961},{"b":25,"h":4,"v":0.953},{"b":26,"h":4,"v":0.94},{"b":27,"h":4,"v":0.936},{"b":28,"h":4,"v":0.934},{"b":29,"h":4,"v":0.931},{"b":30,"h":4,"v":0.929},{"b":31,"h":4,"v":0.923},{"b":32,"h":4,"v":0.922},{"b":33,"h":4,"v":0.921},{"b":34,"h":4,"v":0.934},{"b":35,"h":4,"v":0.926},{"b":36,"h":4,"v":0.914},{"b":37,"h":4,"v":0.894},{"b":38,"h":4,"v":0.935},
{"b":1,"h":3,"v":1},{"b":2,"h":3,"v":0.994},{"b":3,"h":3,"v":0.975},{"b":4,"h":3,"v":0.967},{"b":5,"h":3,"v":0.957},{"b":6,"h":3,"v":0.943},{"b":7,"h":3,"v":0.938},{"b":8,"h":3,"v":0.932},{"b":9,"h":3,"v":0.923},{"b":10,"h":3,"v":0.916},{"b":11,"h":3,"v":0.913},{"b":12,"h":3,"v":0.909},{"b":13,"h":3,"v":0.903},{"b":14,"h":3,"v":0.899},{"b":15,"h":3,"v":0.896},{"b":16,"h":3,"v":0.894},{"b":17,"h":3,"v":0.893},{"b":18,"h":3,"v":0.892},{"b":19,"h":3,"v":0.994},{"b":20,"h":3,"v":0.993},{"b":21,"h":3,"v":0.991},{"b":22,"h":3,"v":0.988},{"b":23,"h":3,"v":0.97},{"b":24,"h":3,"v":0.961},{"b":25,"h":3,"v":0.953},{"b":26,"h":3,"v":0.94},{"b":27,"h":3,"v":0.936},{"b":28,"h":3,"v":0.934},{"b":29,"h":3,"v":0.931},{"b":30,"h":3,"v":0.929},{"b":31,"h":3,"v":0.923},{"b":32,"h":3,"v":0.922},{"b":33,"h":3,"v":0.921},{"b":34,"h":3,"v":0.934},{"b":35,"h":3,"v":0.927},{"b":36,"h":3,"v":0.915},{"b":37,"h":3,"v":0.894},{"b":38,"h":3,"v":0.935},
{"b":1,"h":2,"v":1},{"b":2,"h":2,"v":0.994},{"b":3,"h":2,"v":0.975},{"b":4,"h":2,"v":0.967},{"b":5,"h":2,"v":0.957},{"b":6,"h":2,"v":0.943},{"b":7,"h":2,"v":0.938},{"b":8,"h":2,"v":0.932},{"b":9,"h":2,"v":0.923},{"b":10,"h":2,"v":0.916},{"b":11,"h":2,"v":0.913},{"b":12,"h":2,"v":0.909},{"b":13,"h":2,"v":0.903},{"b":14,"h":2,"v":0.899},{"b":15,"h":2,"v":0.896},{"b":16,"h":2,"v":0.894},{"b":17,"h":2,"v":0.893},{"b":18,"h":2,"v":0.892},{"b":19,"h":2,"v":0.994},{"b":20,"h":2,"v":0.993},{"b":21,"h":2,"v":0.991},{"b":22,"h":2,"v":0.989},{"b":23,"h":2,"v":0.97},{"b":24,"h":2,"v":0.961},{"b":25,"h":2,"v":0.953},{"b":26,"h":2,"v":0.94},{"b":27,"h":2,"v":0.936},{"b":28,"h":2,"v":0.934},{"b":29,"h":2,"v":0.931},{"b":30,"h":2,"v":0.929},{"b":31,"h":2,"v":0.923},{"b":32,"h":2,"v":0.922},{"b":33,"h":2,"v":0.921},{"b":34,"h":2,"v":0.934},{"b":35,"h":2,"v":0.927},{"b":36,"h":2,"v":0.915},{"b":37,"h":2,"v":0.894},{"b":38,"h":2,"v":0.934},
{"b":1,"h":1,"v":1},{"b":2,"h":1,"v":0.994},{"b":3,"h":1,"v":0.975},{"b":4,"h":1,"v":0.967},{"b":5,"h":1,"v":0.957},{"b":6,"h":1,"v":0.943},{"b":7,"h":1,"v":0.938},{"b":8,"h":1,"v":0.932},{"b":9,"h":1,"v":0.923},{"b":10,"h":1,"v":0.916},{"b":11,"h":1,"v":0.913},{"b":12,"h":1,"v":0.909},{"b":13,"h":1,"v":0.903},{"b":14,"h":1,"v":0.899},{"b":15,"h":1,"v":0.896},{"b":16,"h":1,"v":0.894},{"b":17,"h":1,"v":0.893},{"b":18,"h":1,"v":0.892},{"b":19,"h":1,"v":0.994},{"b":20,"h":1,"v":0.993},{"b":21,"h":1,"v":0.991},{"b":22,"h":1,"v":0.989},{"b":23,"h":1,"v":0.97},{"b":24,"h":1,"v":0.961},{"b":25,"h":1,"v":0.953},{"b":26,"h":1,"v":0.94},{"b":27,"h":1,"v":0.936},{"b":28,"h":1,"v":0.934},{"b":29,"h":1,"v":0.931},{"b":30,"h":1,"v":0.929},{"b":31,"h":1,"v":0.923},{"b":32,"h":1,"v":0.922},{"b":33,"h":1,"v":0.921},{"b":34,"h":1,"v":0.934},{"b":35,"h":1,"v":0.927},{"b":36,"h":1,"v":0.915},{"b":37,"h":1,"v":0.894},{"b":38,"h":1,"v":0.933}
]},
"transform":[
{"calculate":"(datum.b-0.5)/38","as":"u"},{"calculate":"(datum.h-0.5)/24","as":"w"},{"calculate":"(datum.v-0.8)/0.2","as":"t"},
{"calculate":"1-0.15783*datum.u+0.26561*datum.w-0.03584*datum.t","as":"den"},
{"calculate":"(478.83*datum.u+235.25*datum.w+109-15.77*datum.t)/datum.den","as":"px"},
{"calculate":"(11.97*datum.u-22.4*datum.w+335-186.5*datum.t)/datum.den","as":"py"}],
"encoding":{"x":{"field":"px","type":"quantitative","axis":null,"scale":{"domain":[0,798],"nice":false,"zero":false}},"y":{"field":"py","type":"quantitative","axis":null,"scale":{"domain":[446,0],"nice":false,"zero":false}}},
"layer":[
{"transform":[{"filter":"datum.k=='r'"},
{"calculate":"(datum.b2-0.5)/38","as":"u2"},{"calculate":"(datum.h2-0.5)/24","as":"w2"},{"calculate":"(datum.v2-0.8)/0.2","as":"t2"},
{"calculate":"1-0.15783*datum.u2+0.26561*datum.w2-0.03584*datum.t2","as":"den2"},
{"calculate":"(478.83*datum.u2+235.25*datum.w2+109-15.77*datum.t2)/datum.den2","as":"qx"},
{"calculate":"(11.97*datum.u2-22.4*datum.w2+335-186.5*datum.t2)/datum.den2","as":"qy"}],
"mark":{"type":"rule","color":"#a6a6a6","strokeWidth":1.4},"encoding":{"x2":{"field":"qx"},"y2":{"field":"qy"}}},
{"transform":[{"filter":"!datum.k"}],"mark":{"type":"line","strokeJoin":"round","strokeCap":"round"},
"encoding":{"order":{"field":"b","type":"quantitative"},
"size":{"field":"h","type":"quantitative","legend":null,"scale":{"domain":[1,24],"range":[4.2,2.6]}},
"color":{"field":"h","type":"nominal","scale":{"domain":[1,2,3,4,5,6,7,8,9,10,11,12,13,14,15,16,17,18,19,20,21,22,23,24],"range":["#3A6594","#8F3A37","#738C3F","#5E4779","#36839A","#B96F32","#4471A9","#A94543","#89A44C","#71578F","#4198AF","#DB843D","#4F81BD","#C0504D","#9BBB59","#8064A2","#4BACC6","#F79646","#95A9D0","#D19392","#B9CD96","#A99BBD","#93C3D5","#FAB38C"]},
"legend":{"orient":"none","legendX":12,"legendY":11,"padding":0,"title":null,"direction":"horizontal","columns":6,"gridAlign":"all","columnPadding":47,"rowPadding":4.4,"symbolType":"square","symbolSize":121,"symbolStrokeWidth":0,"labelFont":"Liberation Serif","labelFontSize":19,"labelColor":"#231f20","labelOffset":-2,"labelExpr":"datum.label=='24'?'24-Hours':datum.label","encode":{"symbols":{"update":{"fill":{"scale":"color","field":"value"}}}}}}}},
{"transform":[{"filter":"datum.k=='lv'"}],"mark":{"type":"text","font":"Liberation Serif","align":"right","baseline":"middle","dx":-14,"dy":2,"fontSize":18,"color":"#231f20"},"encoding":{"text":{"field":"label"}}},
{"transform":[{"filter":"datum.k=='lb'"}],"mark":{"type":"text","font":"Liberation Serif","align":"center","baseline":"middle","dy":27,"fontSize":18,"color":"#231f20"},"encoding":{"text":{"field":"label"}}},
{"transform":[{"filter":"datum.k=='lh'"}],"mark":{"type":"text","font":"Liberation Serif","align":"left","baseline":"middle","dx":15,"fontSize":18,"color":"#231f20"},"encoding":{"text":{"field":"label"}}},
{"transform":[{"filter":"datum.k=='tx'"}],"mark":{"type":"text","font":"Liberation Serif","align":"center","baseline":"middle","dx":7,"dy":62,"fontSize":22,"color":"#231f20"},"encoding":{"text":{"field":"label"}}},
{"transform":[{"filter":"datum.k=='ty'"}],"mark":{"type":"text","font":"Liberation Serif","align":"center","baseline":"middle","angle":270,"dx":-6,"dy":-82,"fontSize":22,"color":"#231f20"},"encoding":{"text":{"field":"label"}}},
{"transform":[{"filter":"datum.k=='tt'"}],"mark":{"type":"text","font":"Liberation Serif","align":"center","baseline":"middle","angle":270,"dx":-14,"dy":68,"fontSize":22,"color":"#231f20"},"encoding":{"text":{"field":"label"}}}
]}
